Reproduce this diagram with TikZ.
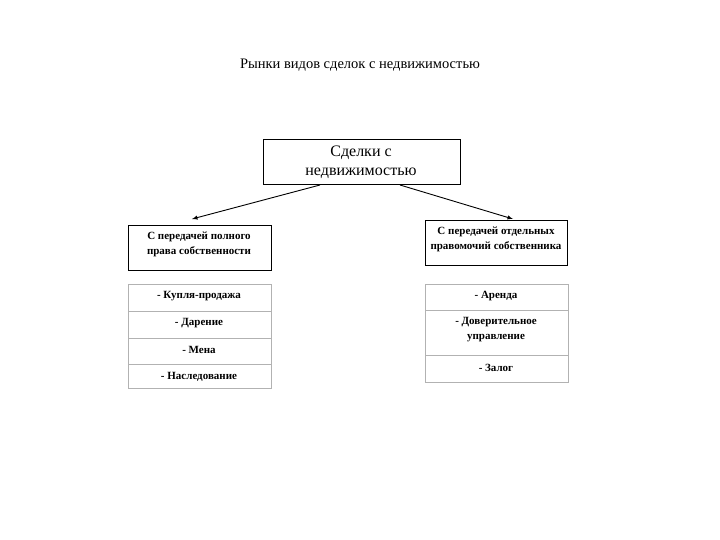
\documentclass[tikz,border=0pt]{standalone}
\usepackage{fontspec}
\setmainfont{Liberation Serif}
\begin{document}
\begin{tikzpicture}[x=1pt,y=-1pt,
  box/.style={draw=black,line width=0.8pt},
  cell/.style={draw=black!30,line width=0.8pt},
  small/.style={font=\fontsize{11}{15}\selectfont\bfseries,align=center},
  arr/.style={-latex,line width=0.9pt}]
\useasboundingbox (0,0) rectangle (720,540);
\node[font=\fontsize{14.5}{16}\selectfont] (title) at (360,65) {Рынки видов сделок с недвижимостью};
\draw[box] (263,139) rectangle (460,184);
\node[font=\fontsize{16}{19}\selectfont,align=center] (top) at (361,162) {Сделки с\\недвижимостью};
\coordinate (tl) at (320,185); \coordinate (tr) at (400,185);
\draw[box] (128,225) rectangle (271,270);
\node[small] (left) at (199,244) {С передачей полного\\права собственности};
\draw[box] (425,220) rectangle (567,265);
\node[small] (right) at (496,239) {С передачей отдельных\\правомочий собственника};
\coordinate (la) at (192,219); \coordinate (ra) at (513,219);
\draw[arr] (tl) -- (la);
\draw[arr] (tr) -- (ra);
\draw[cell] (128,284) rectangle (271,388);
\draw[cell] (128,311) -- (271,311) (128,338) -- (271,338) (128,364) -- (271,364);
\node[small] (l1) at (199,296) {- Купля-продажа};
\node[small] (l2) at (199,323) {- Дарение};
\node[small] (l3) at (199,350) {- Мена};
\node[small] (l4) at (199,377) {- Наследование};
\draw[cell] (425,284) rectangle (568,382);
\draw[cell] (425,310) -- (568,310) (425,355) -- (568,355);
\node[small] (r1) at (496,296) {- Аренда};
\node[small] (r2) at (496,330) {- Доверительное\\управление};
\node[small] (r3) at (496,368) {- Залог};
\end{tikzpicture}
\end{document}
